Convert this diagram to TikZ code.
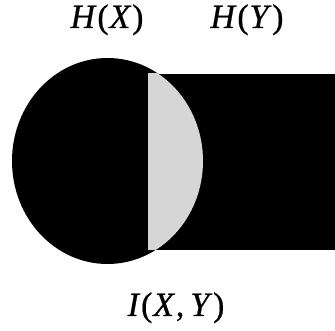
\documentclass[tikz,border=0pt]{standalone}
\usepackage{fontspec}
\setmainfont{Liberation Serif}
\newfontfamily\labelfont[FakeBold=0.6]{Liberation Serif}
\definecolor{SetInk}{HTML}{000000}
\definecolor{SetShare}{HTML}{D6D6D6}
\newcommand{\gap}{\kern0.8pt}
\begin{document}
\begin{tikzpicture}[x=1pt, y=-1pt,
  setlabel/.style={font=\labelfont\fontsize{34}{38}\selectfont, inner sep=0pt, anchor=base},
  setfill/.style={fill=SetInk}
]
\useasboundingbox (0,0) rectangle (335,331);
% the two sets
\coordinate (cx) at (107.5,161);
\fill[setfill] (148,74) rectangle (335,250);
\fill[setfill] (cx) ellipse [x radius=95.5, y radius=103];
% their common part
\begin{scope}
  \clip (148,74) rectangle (335,250);
  \fill[SetShare] (cx) ellipse [x radius=95.5, y radius=103];
\end{scope}
\node[setlabel] (hx) at (107,28) {\textit{H}\gap(\gap\textit{X}\gap)};
\node[setlabel] (hy) at (247,28) {\textit{H}\gap(\gap\textit{Y}\gap)};
\node[setlabel] (ixy) at (176,316) {\textit{I}\gap(\gap\textit{X}\gap,\kern6pt\textit{Y}\gap)};
\end{tikzpicture}
\end{document}
